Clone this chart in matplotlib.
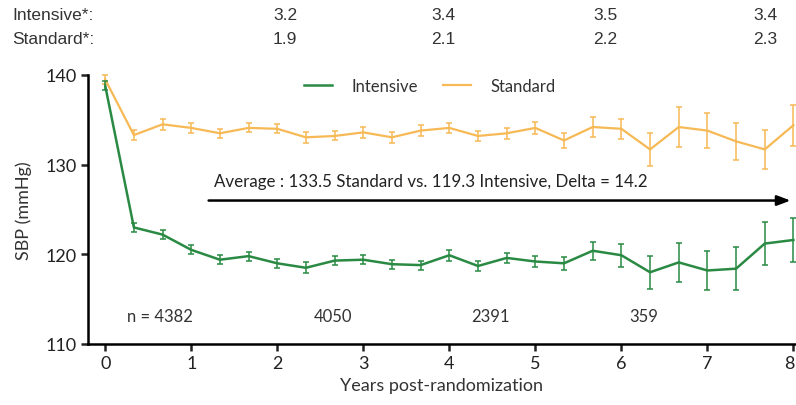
import matplotlib
matplotlib.use("Agg")
import matplotlib.pyplot as plt
import matplotlib.transforms as mtransforms
import numpy as np

# ---- data ----
months = [0, 4, 8, 12, 16, 20, 24, 28, 32, 36, 40, 44, 48, 52, 56, 60, 64, 68, 72, 76, 80, 84, 88, 92, 96]
intensive = [138.8, 123.0, 122.2, 120.5, 119.4, 119.8, 119.0, 118.5, 119.3, 119.4, 118.9, 118.8,
             119.9, 118.7, 119.6, 119.2, 119.0, 120.4, 119.9, 118.0, 119.1, 118.2, 118.4, 121.2, 121.6]
intensive_err = [0.5, 0.5, 0.5, 0.5, 0.5, 0.5, 0.5, 0.6, 0.5, 0.5, 0.5, 0.5,
                 0.6, 0.6, 0.6, 0.6, 0.7, 1.0, 1.3, 1.85, 2.2, 2.2, 2.4, 2.4, 2.5]
standard = [139.5, 133.3, 134.5, 134.1, 133.5, 134.1, 134.0, 133.05, 133.2, 133.6, 133.05, 133.8,
            134.1, 133.2, 133.5, 134.1, 132.7, 134.2, 134.0, 131.7, 134.2, 133.8, 132.6, 131.7, 134.4]
standard_err = [0.5, 0.6, 0.6, 0.6, 0.5, 0.5, 0.5, 0.6, 0.5, 0.6, 0.6, 0.6,
                0.6, 0.6, 0.6, 0.7, 0.8, 1.1, 1.1, 1.85, 2.2, 1.95, 2.1, 2.2, 2.3]
years = [m / 12 for m in months]

med_labels = ["Intensive*:", "Standard*:"]
med_intensive = ["3.2", "3.4", "3.5", "3.4"]
med_standard = ["1.9", "2.1", "2.2", "2.3"]
med_xpos_px = [285, 443, 605, 765]

n_years = [0.64, 2.65, 4.48, 6.26]
n_labels = ["n = 4382", "4050", "2391", "359"]

avg_text = "Average : 133.5 Standard vs. 119.3 Intensive, Delta = 14.2"

GREEN = "#2a8a43"
ORANGE = "#f6b955"
W, H = 796, 406

fig = plt.figure(figsize=(W / 100, H / 100), dpi=100)
ax = fig.add_axes([88 / W, 1 - 345 / H, (W - 88) / W, (345 - 76) / H])

chart_font = "Lato"

ax.errorbar(years, standard, yerr=standard_err, color=ORANGE, lw=1.6, elinewidth=1.1,
            capsize=2.5, capthick=1.1, label="Standard", zorder=3, clip_on=False)
ax.errorbar(years, intensive, yerr=intensive_err, color=GREEN, lw=1.8, elinewidth=1.1,
            capsize=2.5, capthick=1.1, label="Intensive", zorder=4, clip_on=False)

ax.set_xlim(-0.2, 8.03)
ax.set_ylim(110, 140)
ax.set_xticks(range(0, 9))
ax.set_yticks([110, 120, 130, 140])
for s in ["top", "right"]:
    ax.spines[s].set_visible(False)
for s in ["left", "bottom"]:
    ax.spines[s].set_linewidth(1.8)
ax.tick_params(axis="both", direction="out", length=5, width=1.8, labelsize=13,
               colors="#222222", pad=3)
for lbl in ax.get_xticklabels() + ax.get_yticklabels():
    lbl.set_fontfamily(chart_font)
# keep the last x tick label inside the canvas
last = ax.get_xticklabels()[-1]
last.set_transform(last.get_transform() + mtransforms.ScaledTranslation(-4 / 100, 0, fig.dpi_scale_trans))

ax.set_xlabel("Years post-randomization", fontsize=13, fontfamily=chart_font, color="#333333", labelpad=4)
ax.set_ylabel("SBP (mmHg)", fontsize=13, fontfamily=chart_font, color="#333333", labelpad=10)

handles, labels = ax.get_legend_handles_labels()
order = [labels.index("Intensive"), labels.index("Standard")]
leg = ax.legend([handles[i][0] for i in order], [labels[i] for i in order], loc="upper center",
                bbox_to_anchor=(0.483, 1.045), ncol=2, frameon=False,
                prop={"family": chart_font, "size": 12}, handlelength=1.7, columnspacing=1.5,
                handletextpad=1.15)
for t in leg.get_texts():
    t.set_color("#333333")

ax.annotate("", xy=(8.0, 126.0), xytext=(1.17, 126.0),
            arrowprops=dict(arrowstyle="-|>,head_length=0.8,head_width=0.3", color="black", lw=1.8),
            annotation_clip=False)
ax.text(1.27, 127.3, avg_text, fontsize=12.2, fontfamily=chart_font, color="#222222", va="bottom", ha="left")

for x, t in zip(n_years, n_labels):
    ax.text(x, 113.1, t, fontsize=12, fontfamily=chart_font, color="#333333", ha="center", va="center")

# header rows
hdr = dict(fontsize=12.5, fontfamily="Liberation Sans", color="#333333", va="center")
fig.text(12 / W, 1 - 16 / H, med_labels[0], **hdr)
fig.text(12 / W, 1 - 39 / H, med_labels[1], **hdr)
for xp, vi, vs in zip(med_xpos_px, med_intensive, med_standard):
    fig.text(xp / W, 1 - 16 / H, vi, ha="center", **hdr)
    fig.text(xp / W, 1 - 39 / H, vs, ha="center", **hdr)

fig.savefig("out.png", dpi=100)
